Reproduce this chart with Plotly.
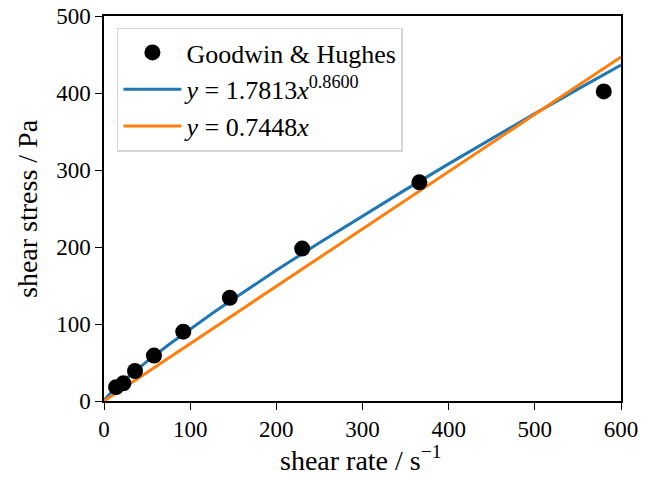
import plotly.graph_objects as go

# measured data (Goodwin & Hughes)
rate = [14, 22.5, 36, 58, 92, 146, 230, 366, 580]
stress = [18, 23, 39, 59, 90, 134, 198, 284, 402]

# power-law fit curve
fit_x = [0, 1, 2.5, 5, 10, 25, 50, 75, 100, 125, 150, 175, 200, 250, 300, 350,
         400, 450, 500, 550, 600]
fit_pow = [0, 1.8, 3.9, 7.1, 12.9, 28.4, 51.5, 73.0, 93.5, 113.3, 132.5, 151.3,
           169.7, 205.6, 240.5, 274.5, 308.0, 340.8, 373.2, 405.0, 436.4]

# linear fit line
lin_x = [0, 600]
lin_y = [0, 446.9]

x_title = "shear rate / s<sup>−1</sup>"
y_title = "shear stress / Pa"

FONT = "Liberation Serif"
FS = 28
TFS = 23
LFS = 26

fig = go.Figure()
fig.add_trace(go.Scatter(x=fit_x, y=fit_pow, mode="lines", legendrank=2,
                         name="<i>y</i> = 1.7813<i>x</i><sup>0.8600</sup>",
                         line=dict(color="#1f77b4", width=3)))
fig.add_trace(go.Scatter(x=lin_x, y=lin_y, mode="lines", legendrank=3,
                         name="<i>y</i> = 0.7448<i>x</i>",
                         line=dict(color="#ff7f0e", width=3)))
fig.add_trace(go.Scatter(x=rate, y=stress, mode="markers", legendrank=1,
                         name="Goodwin &amp; Hughes",
                         marker=dict(color="black", size=16), cliponaxis=False))

axis_common = dict(showline=True, linecolor="black", linewidth=1.5, mirror=True,
                   ticks="outside", ticklen=7, tickwidth=1.3, tickcolor="black",
                   showgrid=False, zeroline=False, automargin=False,
                   tickfont=dict(family=FONT, size=TFS, color="black"))

title_font = dict(family=FONT, size=FS, color="black")

fig.update_layout(
    width=652, height=477,
    margin=dict(l=104, r=31, t=16, b=76, autoexpand=False),
    plot_bgcolor="white", paper_bgcolor="white",
    font=dict(family=FONT, size=TFS, color="black"),
    xaxis=dict(range=[0, 600], dtick=100, **axis_common),
    yaxis=dict(range=[0, 500], dtick=100, **axis_common),
    legend=dict(x=0.025, y=0.97, xanchor="left", yanchor="top",
                bgcolor="rgba(255,255,255,0.8)", bordercolor="#d5d5d5", borderwidth=1.5,
                traceorder="normal", tracegroupgap=0, itemwidth=58,
                font=dict(family=FONT, size=LFS, color="black")),
    annotations=[
        dict(text=x_title, xref="paper", yref="paper", x=0.497, y=-0.15,
             xanchor="center", yanchor="middle", showarrow=False, font=title_font),
        dict(text=y_title, xref="paper", yref="paper", x=-0.148, y=0.5,
             xanchor="center", yanchor="middle", textangle=-90, showarrow=False,
             font=title_font),
    ],
)

fig.write_html("out.html")
